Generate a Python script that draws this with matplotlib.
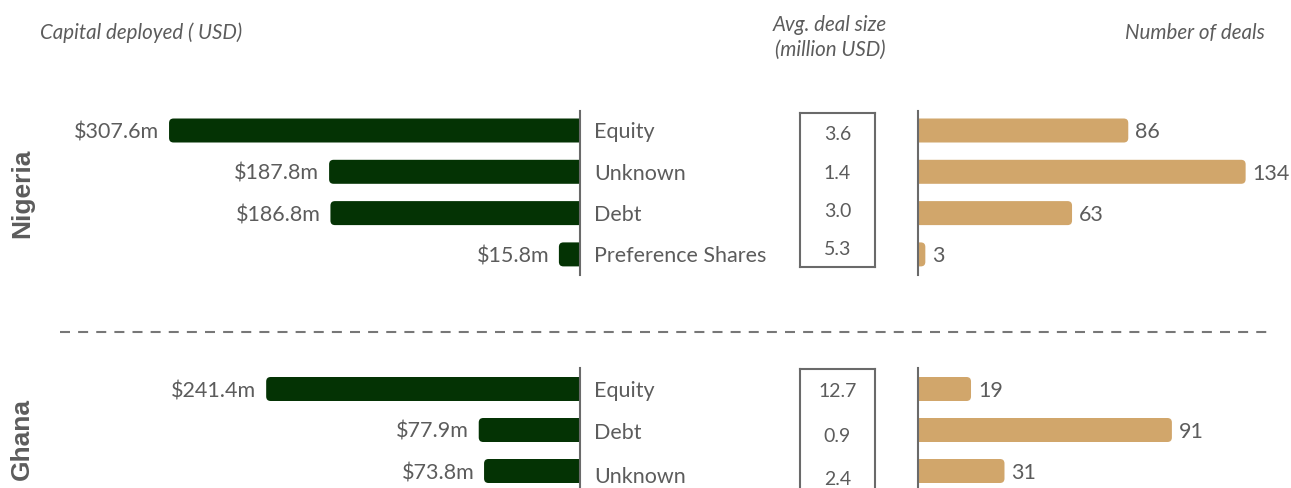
import matplotlib
matplotlib.use("Agg")
import matplotlib.pyplot as plt
from matplotlib.patches import FancyBboxPatch
from matplotlib.lines import Line2D

plt.rcParams['font.family'] = ['Lato', 'DejaVu Sans']

# ---------------- data ----------------
countries = ["Nigeria", "Ghana"]
nigeria_types = ["Equity", "Unknown", "Debt", "Preference Shares"]
nigeria_capital = [307.6, 187.8, 186.8, 15.8]        # million USD
nigeria_avg = [3.6, 1.4, 3.0, 5.3]                   # million USD
nigeria_deals = [86, 134, 63, 3]

ghana_types = ["Equity", "Debt", "Unknown"]
ghana_capital = [241.4, 77.9, 73.8]
ghana_avg = [12.7, 0.9, 2.4]
ghana_deals = [19, 91, 31]

# ---------------- style ----------------
GREEN = "#043304"
TAN = "#d1a66b"
TXT = "#5c5c5c"
LINE = "#6a6a6a"
W, H = 1291, 488
fig = plt.figure(figsize=(W / 100, H / 100), dpi=100)


def ax_px(x0, y0, x1, y1):
    """axes from pixel box (top-left origin)"""
    return fig.add_axes([x0 / W, 1 - y1 / H, (x1 - x0) / W, (y1 - y0) / H])


def clean(ax):
    ax.set_xticks([])
    ax.set_yticks([])
    for s in ax.spines.values():
        s.set_visible(False)
    ax.patch.set_alpha(0)


def round_bars(ax, bars, color, r_px=4.5):
    """replace each bar by a patch rounded at its outer end only
    (the inner end extends past the axis and is clipped square)"""
    ax_w = ax.get_window_extent().width
    ax_h = ax.get_window_extent().height
    x0, x1 = ax.get_xlim()
    y0, y1 = ax.get_ylim()
    xu = abs(x1 - x0) / ax_w
    yu = abs(y1 - y0) / ax_h
    for b in bars:
        x, y, w, h = b.get_x(), b.get_y(), b.get_width(), b.get_height()
        w_px = w / xu
        r = min(r_px, w_px / 2.0 + 1) * xu
        ext = 8 * xu
        p = FancyBboxPatch((x - ext, y), w + ext, h,
                           boxstyle=f"round,pad=0,rounding_size={r}",
                           mutation_aspect=yu / xu,
                           facecolor=color, edgecolor="none", zorder=2,
                           clip_on=True)
        ax.add_patch(p)
        b.set_visible(False)


def panel(types, capital, avg, deals, y_top, y_bot, row0, step,
          left_scale, right_scale, box_top, box_bot, box_nudge, label_nudge):
    n = len(types)
    ylim = ((y_bot - row0) / step, -(row0 - y_top) / step)
    ys = list(range(n))
    bh = 24 / step

    # left: capital deployed
    axl = ax_px(60, y_top, 580, y_bot)
    clean(axl)
    axl.set_xlim(520 / left_scale, 0)
    axl.set_ylim(*ylim)
    axl.spines['right'].set_visible(True)
    axl.spines['right'].set_color(LINE)
    axl.spines['right'].set_linewidth(1.5)
    axl.spines['right'].set_zorder(3)
    bars = axl.barh(ys, capital, height=bh, color=GREEN, zorder=2)
    round_bars(axl, bars, GREEN)
    for y, v, t, d in zip(ys, capital, types, label_nudge):
        axl.annotate(f"${v:.1f}m", (v, y), xytext=(-7, 0),
                     textcoords="offset points", ha="right",
                     va="center_baseline", fontsize=15.5, color=TXT)
        axl.annotate(t, (0, y + d), xytext=(10, 0), textcoords="offset points",
                     ha="left", va="center_baseline", fontsize=15.5,
                     color=TXT, annotation_clip=False)

    # middle: avg deal size box
    axb = ax_px(800, box_top, 875, box_bot)
    axb.set_xticks([])
    axb.set_yticks([])
    for s in axb.spines.values():
        s.set_color(LINE)
        s.set_linewidth(1.5)
    axb.patch.set_alpha(0)
    axb.set_xlim(0, 1)
    axb.set_ylim((box_bot - row0) / step, -(row0 - box_top) / step)
    for y, v, d in zip(ys, avg, box_nudge):
        axb.text(0.5, y + d, f"{v:.1f}", ha="center", va="center_baseline",
                 fontsize=14, color=TXT)

    # right: number of deals
    axr = ax_px(918, y_top, 1270, y_bot)
    clean(axr)
    axr.set_xlim(0, 352 / right_scale)
    axr.set_ylim(*ylim)
    axr.spines['left'].set_visible(True)
    axr.spines['left'].set_color(LINE)
    axr.spines['left'].set_linewidth(1.5)
    axr.spines['left'].set_zorder(3)
    bars = axr.barh(ys, deals, height=bh, color=TAN, zorder=2)
    round_bars(axr, bars, TAN)
    for y, v in zip(ys, deals):
        axr.annotate(f"{v}", (v, y), xytext=(5, 0), textcoords="offset points",
                     ha="left", va="center_baseline", fontsize=15.5,
                     color=TXT, annotation_clip=False)
    return axl, axb, axr


panel(nigeria_types, nigeria_capital, nigeria_avg, nigeria_deals,
      y_top=111, y_bot=275, row0=130.5, step=41.3,
      left_scale=1.336, right_scale=2.445, box_top=113, box_bot=267,
      box_nudge=[0.06, 0.01, -0.07, -0.16], label_nudge=[0, 0, 0, 0])
panel(ghana_types, ghana_capital, ghana_avg, ghana_deals,
      y_top=368, y_bot=489, row0=389, step=41,
      left_scale=1.30, right_scale=2.79, box_top=369, box_bot=495,
      box_nudge=[0.02, 0.12, 0.17], label_nudge=[0, 0.03, 0.1])

# headers
hdr = dict(fontsize=14.8, style="italic", color=TXT)
fig.text(40 / W, 1 - 33 / H, "Capital deployed ( USD)", ha="left",
         va="center", **hdr)
fig.text(830 / W, 1 - 25 / H, "Avg. deal size", ha="center", va="center",
         **hdr)
fig.text(830 / W, 1 - 50 / H, "(million USD)", ha="center", va="center",
         **hdr)
fig.text(1265 / W, 1 - 33 / H, "Number of deals", ha="right", va="center",
         **hdr)

# country labels
for name, yc in zip(countries, [193.5, 439]):
    fig.text(22 / W, 1 - yc / H, name, rotation=90, ha="center", va="center",
             fontsize=19, fontweight="bold", color=TXT,
             family=["Liberation Sans", "DejaVu Sans"])

# divider
fig.add_artist(Line2D([60 / W, 1270 / W], [1 - 332 / H, 1 - 332 / H],
                      transform=fig.transFigure, color="#777777", lw=1.5,
                      linestyle=(0, (4.8, 3.9))))

fig.savefig("out.png", dpi=100)
